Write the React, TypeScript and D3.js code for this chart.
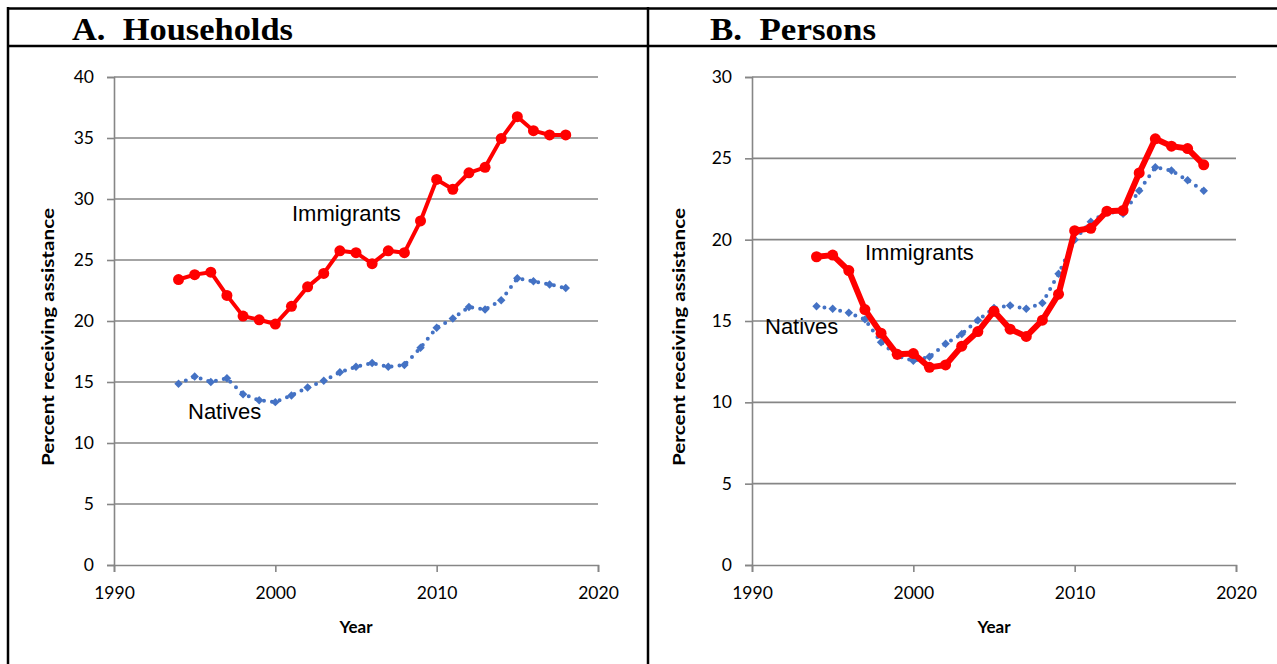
import React, { useEffect, useRef } from "react";
import * as d3 from "d3";

const years = d3.range(1994, 2019);

// Panel A: households
const hhImmigrants = [23.4, 23.8, 24.0, 22.1, 20.4, 20.1, 19.75, 21.2, 22.8, 23.9, 25.75, 25.6, 24.7, 25.75, 25.6, 28.2, 31.6, 30.8, 32.15, 32.6, 34.95, 36.75, 35.6, 35.25, 35.25];
const hhNatives = [14.85, 15.45, 15.0, 15.3, 14.0, 13.5, 13.35, 13.9, 14.55, 15.1, 15.8, 16.25, 16.55, 16.25, 16.4, 17.8, 19.45, 20.2, 21.15, 20.95, 21.7, 23.5, 23.25, 23.0, 22.7];

// Panel B: persons
const psImmigrants = [18.95, 19.05, 18.1, 15.7, 14.25, 12.95, 13.0, 12.15, 12.3, 13.45, 14.35, 15.6, 14.5, 14.05, 15.05, 16.65, 20.55, 20.7, 21.75, 21.8, 24.1, 26.2, 25.75, 25.6, 24.6];
const psNatives = [15.9, 15.75, 15.5, 15.1, 13.7, 12.85, 12.55, 12.8, 13.6, 14.2, 15.05, 15.8, 15.95, 15.75, 16.1, 17.9, 20.0, 21.1, 21.7, 21.6, 23.0, 24.45, 24.25, 23.65, 23.0];

const xTicks = [1990, 2000, 2010, 2020];

const RED = "#ff0000";
const BLUE = "#4472c4";
const GRID = "#868686";
const TICK_FONT = "Lato, 'Liberation Sans', sans-serif";

type PanelProps = {
  ox: number;
  title: string;
  titleLen: number;
  imm: number[];
  nat: number[];
  yMax: number;
  immWidth: number;
  yLabelX: number;
  immLabel: [number, number];
  natLabel: [number, number];
};

function Panel({ ox, title, titleLen, imm, nat, yMax, immWidth, yLabelX, immLabel, natLabel }: PanelProps) {
  const ref = useRef<SVGGElement>(null);

  useEffect(() => {
    const g = d3.select(ref.current);
    g.selectAll("*").remove();

    const left = 106, right = 590, top = 77, bottom = 565;

    const x = d3.scaleLinear().domain([1990, 2020]).range([left, right]);
    const y = d3.scaleLinear().domain([0, yMax]).range([bottom, top]);
    const yTicks = d3.range(0, yMax + 1, 5);

    // title
    g.append("text")
      .attr("x", 64)
      .attr("y", 40)
      .attr("textLength", titleLen)
      .attr("lengthAdjust", "spacingAndGlyphs")
      .style("font-family", "'Liberation Serif', serif")
      .style("font-weight", "bold")
      .style("font-size", "31px")
      .style("white-space", "pre")
      .text(title);

    // gridlines
    g.selectAll(".grid")
      .data(yTicks.filter(d => d > 0))
      .join("line")
      .attr("x1", left)
      .attr("x2", right)
      .attr("y1", d => y(d))
      .attr("y2", d => y(d))
      .attr("stroke", GRID)
      .attr("stroke-width", 1.6);

    // y axis
    const yAxis = g.append("g")
      .attr("transform", `translate(${left},0)`)
      .call(d3.axisLeft(y).tickValues(yTicks).tickSize(7).tickPadding(13));
    // x axis
    const xAxis = g.append("g")
      .attr("transform", `translate(0,${bottom})`)
      .call(d3.axisBottom(x).tickValues(xTicks).tickFormat(d3.format("d")).tickSize(7).tickPadding(15));

    [yAxis, xAxis].forEach(a => {
      a.select(".domain").attr("stroke", GRID).attr("stroke-width", 1.6);
      a.selectAll(".tick line").attr("stroke", GRID).attr("stroke-width", 1.6);
      a.selectAll(".tick text")
        .attr("fill", "#000")
        .style("font-family", TICK_FONT)
        .style("font-size", "17.5px");
    });

    // axis titles
    g.append("text")
      .attr("x", (left + right) / 2)
      .attr("y", 633)
      .attr("text-anchor", "middle")
      .style("font-family", TICK_FONT)
      .style("font-weight", "bold")
      .style("font-size", "17px")
      .text("Year");

    g.append("text")
      .attr("transform", `translate(${yLabelX},466) rotate(-90)`)
      .attr("textLength", 258)
      .attr("lengthAdjust", "spacingAndGlyphs")
      .style("font-family", TICK_FONT)
      .style("font-weight", "bold")
      .style("font-size", "17px")
      .text("Percent receiving assistance");

    const line = d3.line<number>()
      .x((_, i) => x(years[i]))
      .y(d => y(d));

    // natives: dotted blue line with diamond markers
    g.append("path")
      .datum(nat)
      .attr("d", line)
      .attr("fill", "none")
      .attr("stroke", BLUE)
      .attr("stroke-width", 4)
      .attr("stroke-linecap", "round")
      .attr("stroke-dasharray", "0 8");

    const diamond = d3.symbol().type(d3.symbolSquare).size(36);
    g.selectAll(".nat")
      .data(nat)
      .join("path")
      .attr("d", diamond)
      .attr("transform", (d, i) => `translate(${x(years[i])},${y(d)}) rotate(45)`)
      .attr("fill", BLUE);

    // immigrants: solid red line with circles
    g.append("path")
      .datum(imm)
      .attr("d", line)
      .attr("fill", "none")
      .attr("stroke", RED)
      .attr("stroke-width", immWidth)
      .attr("stroke-linejoin", "round");

    g.selectAll(".imm")
      .data(imm)
      .join("circle")
      .attr("cx", (_, i) => x(years[i]))
      .attr("cy", d => y(d))
      .attr("r", 5.5)
      .attr("fill", RED);

    // series labels
    const lbl = (pos: [number, number], t: string) =>
      g.append("text")
        .attr("x", pos[0])
        .attr("y", pos[1])
        .style("font-family", "'Liberation Sans', Arial, sans-serif")
        .style("font-size", "22px")
        .text(t);
    lbl(immLabel, "Immigrants");
    lbl(natLabel, "Natives");
  }, [ox, title, titleLen, imm, nat, yMax, immWidth, yLabelX, immLabel, natLabel]);

  return <g ref={ref} transform={`translate(${ox},0)`} />;
}

export default function App() {
  return (
    <svg
      width={1277}
      height={664}
      style={{ position: "fixed", left: 0, top: 0, background: "#fff" }}
    >
      <rect x={0} y={0} width={1277} height={664} fill="#fff" />
      <Panel ox={8} title="A.  Households" titleLen={221} imm={hhImmigrants} nat={hhNatives} yMax={40} immWidth={4} yLabelX={46} immLabel={[284, 221]} natLabel={[180, 419]} />
      <Panel ox={646} title="B.  Persons" titleLen={166} imm={psImmigrants} nat={psNatives} yMax={30} immWidth={6} yLabelX={39} immLabel={[219, 260]} natLabel={[119, 334]} />
      {/* table borders */}
      <line x1={7} x2={1277} y1={8.5} y2={8.5} stroke="#000" strokeWidth={2.5} />
      <line x1={7} x2={1277} y1={46} y2={46} stroke="#000" strokeWidth={2.5} />
      <line x1={8} x2={8} y1={7} y2={664} stroke="#000" strokeWidth={2.5} />
      <line x1={648} x2={648} y1={7} y2={664} stroke="#000" strokeWidth={2.5} />
    </svg>
  );
}
